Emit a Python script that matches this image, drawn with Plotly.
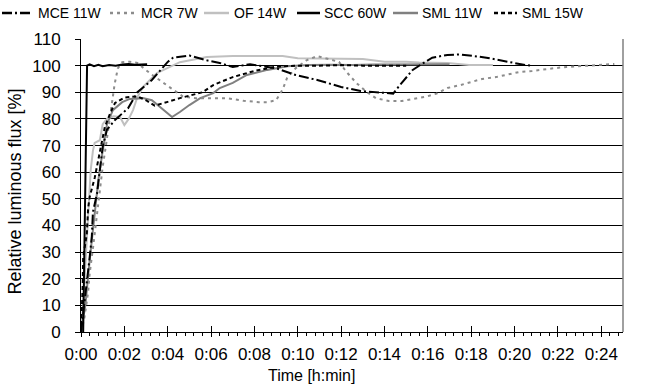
import plotly.graph_objects as go

# ---------------- data (time in minutes, relative luminous flux in %) ----------------
mce_t = [0, 0.15, 0.27, 0.4, 0.5, 0.55, 0.74, 0.87, 1.0, 1.2, 1.57, 2.17, 2.6, 3.27, 4.0, 4.25, 5.0, 5.8, 6.4, 7.0,
         7.8, 9.0, 9.9, 10.9, 12.0, 12.9, 13.9, 14.4, 14.7, 15.3, 15.7, 16.2, 16.9, 17.5, 18.7, 19.6, 20.5, 20.8]
mce_v = [0, 10, 20, 28, 36, 45, 52, 62, 69.5, 76, 79.6, 84, 90, 94.6, 101.4, 103, 103.8, 102, 101, 99.5,
         100.5, 99, 96.5, 94.6, 92, 90.5, 89.8, 89.5, 92.6, 98.4, 100.5, 103, 104, 104.2, 103, 101.5, 100.2, 100]

mcr_t = [0, 0.15, 0.33, 0.4, 0.56, 0.72, 0.87, 1.0, 1.15, 1.3, 1.43, 1.55, 1.7, 1.9,
         2.25, 2.6, 3.2, 3.8, 4.25, 4.7, 5.3, 6.0, 6.7, 7.5, 8.2, 8.6, 9.0, 9.3, 9.5, 9.9, 10.4, 10.9, 11.3,
         11.9, 12.25, 12.7, 13.2, 13.6, 14.2, 14.8, 15.3, 15.9, 16.4, 16.9, 17.5, 18.0, 18.5, 19.2, 19.7,
         20.2, 20.8, 21.4, 21.9, 22.4, 23.0, 23.6, 24.1, 24.6]
mcr_v = [0, 5, 15, 22, 32, 43, 52, 62, 70, 79, 86, 93, 99, 101.3,
         101.5, 101, 97, 93.5, 91, 88.4, 87.8, 87.8, 87.8, 86.8, 86.3, 86.3, 87, 91, 95.3, 99, 102, 103.6, 102.8,
         101.4, 97.6, 93.5, 90, 87.8, 86.7, 86.7, 87.5, 88.3, 89.5, 91.6, 92.7, 93.8, 95, 95.8, 96.8,
         97.6, 98, 98.7, 99.1, 99.5, 99.8, 100.2, 100.4, 100.6]

of_t = [0, 0.1, 0.2, 0.3, 0.45, 0.55, 0.63, 0.87, 1.0, 1.2, 1.5, 1.8, 2.0, 2.2, 2.4, 2.6, 2.86, 3.5, 4.56,
        5.8, 7.0, 8.0, 9.3, 10.0, 11.0, 12.0, 13.0, 14.0, 15.0, 15.6, 16.9, 17.9, 19.0]
of_v = [0, 10, 25, 40, 61, 68, 71, 72, 78, 80, 81, 80.7, 77.7, 80, 83.3, 88.2, 92, 97.2, 101.3,
        103.2, 103.6, 103.6, 103.6, 102.8, 102.7, 102.7, 102.5, 101.5, 101.5, 101.2, 101, 100.2, 100.2]

scc_t = [0.1, 0.28, 0.4, 0.6, 0.8, 1.0, 1.3, 1.6, 1.9, 2.2, 2.5, 2.8, 3.05]
scc_v = [0, 100, 100.5, 99.8, 100.3, 99.8, 100.2, 100.0, 100.4, 100.6, 100.3, 100.5, 100.5]

sml11_t = [0, 0.2, 0.4, 0.6, 0.8, 1.0, 1.2, 1.47, 1.9, 2.25, 2.85, 3.27, 3.73, 4.2, 4.56, 5.0, 5.5, 6.1, 6.4,
           7.0, 7.65, 8.6, 9.5, 10.5, 11.5, 12.5, 13.5, 14.5, 15.5, 16.5, 17.0]
sml11_v = [0, 10, 27, 42, 57, 68, 78, 83.3, 86.3, 87.5, 87.8, 87, 84, 80.7, 82.6, 85.2, 87.8, 89.7, 91.6,
           93.5, 96.5, 98.4, 99.8, 100.2, 100.3, 100.2, 100.4, 100.5, 100.6, 100.5, 100.5]

sml15_t = [0, 0.05, 0.08, 0.1, 0.27, 0.33, 0.4, 0.63, 0.8, 0.87, 1.1, 1.34, 1.57, 2.0, 2.6, 3.0, 3.4, 4.0,
           4.56, 5.6, 6.1, 7.0, 8.0, 9.0, 10.0, 11.0, 12.0, 13.0, 14.0, 15.0]
sml15_v = [0, 10, 18, 28, 37, 46.5, 50.7, 57.8, 64.6, 68, 77, 82, 86, 88, 88.5, 87, 85, 86.4,
           87.8, 90, 92.7, 95.7, 98, 99.6, 100, 100, 100.2, 100, 100, 100]

series_names = ["MCE 11W", "MCR 7W", "OF 14W", "SCC 60W", "SML 11W", "SML 15W"]

x_tick_vals = [0, 2, 4, 6, 8, 10, 12, 14, 16, 18, 20, 22, 24]
x_tick_text = ["0:00", "0:02", "0:04", "0:06", "0:08", "0:10", "0:12", "0:14", "0:16", "0:18", "0:20", "0:22", "0:24"]
y_tick_vals = [0, 10, 20, 30, 40, 50, 60, 70, 80, 90, 100, 110]

# ---------------- styles ----------------
FONT = "Liberation Sans"
styles = {
    "MCE 11W": dict(color="#000000", width=2, dash="10px,3px,2px,3px"),
    "MCR 7W": dict(color="#8c8c8c", width=2, dash="3px,4px"),
    "OF 14W": dict(color="#c0c0c0", width=2, dash="solid"),
    "SCC 60W": dict(color="#000000", width=2, dash="solid"),
    "SML 11W": dict(color="#808080", width=2, dash="solid"),
    "SML 15W": dict(color="#000000", width=2, dash="4px,3px"),
}
data = {
    "MCE 11W": (mce_t, mce_v),
    "MCR 7W": (mcr_t, mcr_v),
    "OF 14W": (of_t, of_v),
    "SCC 60W": (scc_t, scc_v),
    "SML 11W": (sml11_t, sml11_v),
    "SML 15W": (sml15_t, sml15_v),
}
draw_order = ["OF 14W", "SML 11W", "MCR 7W", "SML 15W", "MCE 11W", "SCC 60W"]

fig = go.Figure()
for name in draw_order:
    t, v = data[name]
    fig.add_trace(go.Scatter(x=t, y=v, mode="lines", name=name, line=styles[name],
                             showlegend=False, hoverinfo="skip"))

# invisible trace on overlay axis (for inner half of crossing ticks)
fig.add_trace(go.Scatter(x=[0, 25], y=[0, 0], xaxis="x2", mode="lines",
                         line=dict(width=0), showlegend=False, hoverinfo="skip"))

W, H = 657, 392
ML, MR, MT, MB = 81, 34, 39, 60

fig.update_layout(
    width=W, height=H,
    margin=dict(l=ML, r=MR, t=MT, b=MB, pad=0),
    paper_bgcolor="white", plot_bgcolor="white",
    font=dict(family=FONT, size=16, color="#000000"),
    xaxis=dict(range=[0, 25], tickvals=x_tick_vals, ticktext=x_tick_text,
               ticks="outside", ticklen=4, tickcolor="#000", tickwidth=1,
               minor=dict(dtick=0.4, tick0=0, ticks="outside", ticklen=3, tickcolor="#000"),
               showline=True, linecolor="#000", linewidth=1, showgrid=False, zeroline=False,
               tickfont=dict(size=17, family=FONT), ticklabelstandoff=3, fixedrange=True),
    xaxis2=dict(overlaying="x", matches="x", side="bottom", anchor="y", range=[0, 25],
                tickvals=x_tick_vals, ticks="inside", ticklen=6, tickcolor="#000",
                showticklabels=False, showgrid=False, showline=False, zeroline=False),
    yaxis=dict(range=[0, 110], tickvals=y_tick_vals, ticks="outside", ticklen=5, tickcolor="#000",
               showline=True, linecolor="#000", linewidth=1, showgrid=True, gridcolor="#000",
               gridwidth=1, zeroline=False, tickfont=dict(size=17, family=FONT),
               ticklabelstandoff=11, fixedrange=True),
    showlegend=False,
)

# right border of the plot area (gray)
fig.add_shape(type="line", xref="paper", yref="paper", x0=1, x1=1, y0=0, y1=1,
              line=dict(color="#808080", width=1.5))

pw = W - ML - MR
ph = H - MT - MB
def px_x(px):
    return (px - ML) / pw
def px_y(py):
    return 1 - (py - MT) / ph

# axis titles
fig.add_annotation(text="Time [h:min]", xref="paper", yref="paper", x=px_x(311), y=0,
                   xanchor="center", yanchor="top", yshift=-33, showarrow=False,
                   font=dict(size=16, family=FONT))
fig.add_annotation(text="Relative luminous flux [%]", xref="paper", yref="paper", x=0, y=0.5,
                   xanchor="center", yanchor="middle", xshift=-67, yshift=-6, textangle=-90,
                   showarrow=False, font=dict(size=18, family=FONT))

# manual legend (pixel positions)
legend_items = [
    ("MCE 11W", 2, 31, 36),
    ("MCR 7W", 110, 134, 139),
    ("OF 14W", 204, 229, 232),
    ("SCC 60W", 297, 320, 322),
    ("SML 11W", 393, 418, 420),
    ("SML 15W", 494, 517, 520),
]
ly = 13
for name, x0, x1, tx in legend_items:
    st = styles[name]
    fig.add_shape(type="line", xref="paper", yref="paper",
                  x0=px_x(x0), x1=px_x(x1), y0=px_y(ly), y1=px_y(ly),
                  line=dict(color=st["color"], width=2.5, dash=st["dash"]))
    fig.add_annotation(text=name, xref="paper", yref="paper", x=px_x(tx), y=px_y(ly),
                       xanchor="left", yanchor="middle", showarrow=False,
                       font=dict(size=14, family=FONT))

fig.write_html("out.html", include_plotlyjs=True, config={"displayModeBar": False})
